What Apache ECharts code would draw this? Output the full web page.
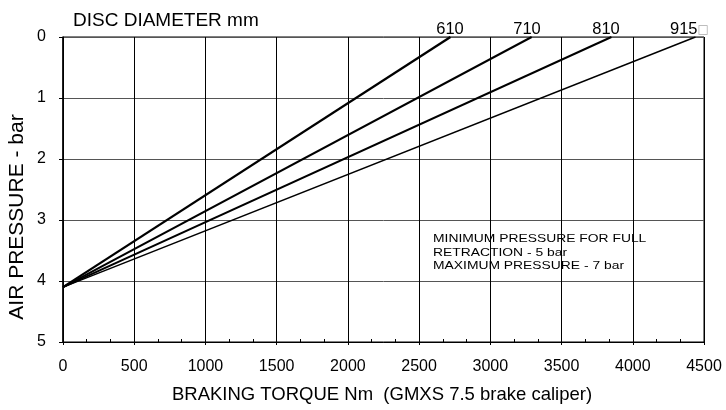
<!DOCTYPE html>
<html>
<head>
<meta charset="utf-8">
<script src="https://cdn.jsdelivr.net/npm/echarts@6/dist/echarts.min.js"></script>
<style>
html,body{margin:0;padding:0;background:#fff;}
#main{width:726px;height:410px;}
</style>
</head>
<body>
<div id="main"></div>
<script>
// ---- data ----
const diameters = ['610', '710', '810', '915'];
const startTorque = [0, 0, 0, 0];            // Nm
const startPressure = [4.1, 4.1, 4.1, 4.1];  // bar
const endTorque = [2720, 3290, 3850, 4440];  // Nm at 0 bar
const endPressure = [0, 0, 0, 0];            // bar
const xTicks = [0, 500, 1000, 1500, 2000, 2500, 3000, 3500, 4000, 4500];
const yTicks = [0, 1, 2, 3, 4, 5];
const noteLines = ['MINIMUM PRESSURE FOR FULL', 'RETRACTION - 5 bar', 'MAXIMUM PRESSURE - 7 bar'];

const lineWidths = [2.3, 2, 2, 1.5];
const FONT = '"Liberation Sans", Arial, Helvetica, sans-serif';

const series = diameters.map((d, i) => ({
  name: d,
  type: 'line',
  data: [[startTorque[i], startPressure[i]], [endTorque[i], endPressure[i]]],
  showSymbol: false,
  symbol: 'none',
  lineStyle: { color: '#000', width: lineWidths[i] },
  silent: true,
  z: 5
}));

const chart = echarts.init(document.getElementById('main'), null, { renderer: 'canvas' });
chart.setOption({
  animation: false,
  backgroundColor: '#fff',
  grid: { left: 63, right: 22, top: 37, bottom: 68, show: true, borderColor: '#000', borderWidth: 1 },
  xAxis: [{
    type: 'value',
    min: xTicks[0], max: xTicks[xTicks.length - 1], interval: xTicks[1] - xTicks[0],
    position: 'bottom',
    axisLine: { show: true, onZero: false, lineStyle: { color: '#000', width: 1 } },
    axisTick: { show: true, inside: true, length: 3, lineStyle: { color: '#000' } },
    minorTick: { show: true, splitNumber: 3, length: 3, lineStyle: { color: '#000', width: 1 } },
    axisLabel: { color: '#000', fontSize: 16, fontFamily: FONT, margin: 17, formatter: v => String(v) },
    splitLine: { show: true, lineStyle: { color: '#000', width: 1 } }
  }, {
    type: 'value',
    min: xTicks[0], max: xTicks[xTicks.length - 1], interval: xTicks[1] - xTicks[0],
    position: 'bottom',
    axisLine: { show: false, onZero: false },
    axisTick: { show: true, inside: false, length: 3, lineStyle: { color: '#000' } },
    axisLabel: { show: false },
    splitLine: { show: false }
  }],
  yAxis: {
    type: 'value',
    inverse: true,
    min: yTicks[0], max: yTicks[yTicks.length - 1], interval: 1,
    axisLine: { show: true, onZero: false, lineStyle: { color: '#000', width: 1.5 } },
    axisTick: { show: true, inside: false, length: 4, lineStyle: { color: '#000' } },
    axisLabel: { color: '#000', fontSize: 16, fontFamily: FONT, margin: 17, formatter: v => String(v) },
    splitLine: { show: true, lineStyle: { color: '#555', width: 1 } }
  },
  series: series,
  graphic: [
    { type: 'text', x: 73, y: 21, style: { text: 'DISC DIAMETER mm', font: '19px ' + FONT, fill: '#000', align: 'left', verticalAlign: 'middle' } },
    { type: 'text', x: 450, y: 29.5, style: { text: diameters[0], font: '16.5px ' + FONT, fill: '#000', align: 'center', verticalAlign: 'middle' } },
    { type: 'text', x: 527, y: 29.5, style: { text: diameters[1], font: '16.5px ' + FONT, fill: '#000', align: 'center', verticalAlign: 'middle' } },
    { type: 'text', x: 606, y: 29.5, style: { text: diameters[2], font: '16.5px ' + FONT, fill: '#000', align: 'center', verticalAlign: 'middle' } },
    { type: 'text', x: 670, y: 29.5, style: {
        text: diameters[3] + '{b|\u25A1}', font: '16.5px ' + FONT, fill: '#000', align: 'left', verticalAlign: 'middle',
        rich: { b: { fontFamily: '"DejaVu Sans"', fontSize: 12, fill: '#aaa', color: '#aaa' } }
    } },
    { type: 'text', x: 17, y: 217, rotation: Math.PI / 2, style: { text: 'AIR PRESSURE - bar', font: '21px ' + FONT, fill: '#000', align: 'center', verticalAlign: 'middle' } },
    { type: 'text', x: 382, y: 395, style: { text: 'BRAKING TORQUE Nm  (GMXS 7.5 brake caliper)', font: '18.5px ' + FONT, fill: '#000', align: 'center', verticalAlign: 'middle' } },
    { type: 'text', x: 433, y: 232, scaleX: 1.32, style: { text: noteLines.join('\n'), font: '10.5px ' + FONT, lineHeight: 13.8, fill: '#000', align: 'left', verticalAlign: 'top' } }
  ]
});
</script>
</body>
</html>
